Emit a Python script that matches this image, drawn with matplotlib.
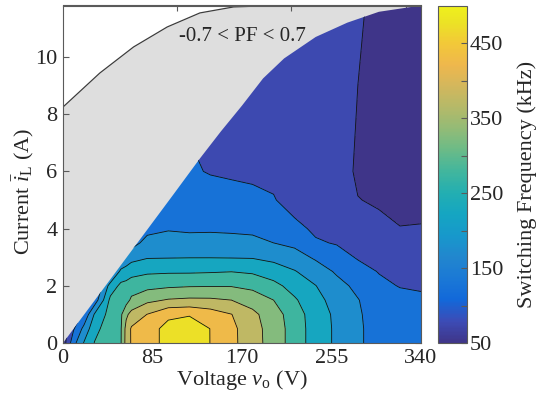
import numpy as np
import matplotlib
matplotlib.use("Agg")
import matplotlib.pyplot as plt
from matplotlib.colors import LinearSegmentedColormap, Normalize
from matplotlib.cm import ScalarMappable
from matplotlib.patches import Polygon

# ---- data ---------------------------------------------------------------
voltage = [0, 10, 20, 30, 45, 55, 60, 65, 80, 100, 120, 140, 160, 180,
           200, 220, 240, 260, 280, 300, 320, 340]
current = [0, 0.5, 1.0, 1.5, 2.0, 2.5, 3.0, 3.5, 4.0, 5.0, 6.0, 8.0, 10.0, 12.0]

# switching frequency (kHz), one row per current value
fsw_khz = [
    [20, 133, 204, 252, 280, 297, 368, 405, 430, 465, 490, 449, 412, 372, 327, 278, 225, 192, 155, 137, 127, 115],
    [25, 95, 165, 235, 277, 296, 366, 406, 430, 465, 485, 449, 412, 370, 327, 278, 225, 192, 155, 137, 127, 115],
    [30, 72, 110, 205, 270, 292, 340, 366, 401, 440, 445, 425, 401, 362, 322, 274, 224, 190, 154, 135, 124, 111],
    [32, 62, 80, 120, 262, 280, 280, 310, 338, 354, 359, 358, 350, 329, 300, 256, 216, 180, 152, 125, 113, 103],
    [34, 58, 70, 90, 220, 262, 264, 273, 285, 292, 296, 297, 297, 287, 264, 231, 201, 165, 139, 110, 98, 98],
    [35, 55, 65, 80, 130, 212, 225, 234, 242, 244, 244, 246, 249, 243, 225, 203, 174, 144, 117, 98, 86, 87],
    [36, 53, 62, 75, 105, 140, 158, 181, 196, 197, 198, 198, 197, 196, 186, 169, 143, 118, 96, 85, 74, 74],
    [36, 52, 60, 72, 95, 110, 120, 130, 167, 171, 167, 167, 164, 161, 150, 139, 105, 97, 86, 72, 62, 62],
    [37, 51, 58, 70, 88, 98, 105, 110, 135, 146, 143, 144, 143, 141, 135, 112, 92, 88, 75, 58, 50.5, 51],
    [38, 50, 56, 66, 80, 88, 92, 95, 105, 104, 124, 121, 117, 112, 103, 80, 80, 78, 51, 46, 45, 45],
    [38, 49, 54, 63, 76, 82, 85, 88, 92, 95, 106, 97, 93, 90, 88, 74, 72, 70, 44, 44, 43, 42],
    [38, 47, 52, 58, 68, 72, 75, 78, 80, 85, 95, 85, 82, 78, 75, 67, 64, 62, 49, 43, 41, 40],
    [38, 45, 50, 55, 62, 66, 68, 70, 72, 78, 85, 76, 72, 68, 65, 60, 58, 57, 51, 43, 39, 38],
    [38, 44, 48, 52, 58, 61, 63, 65, 67, 72, 78, 70, 65, 62, 60, 57, 56, 55, 53, 45, 37, 36],
]

# lower edge of the "-0.7 < PF < 0.7" area (edge of the operating region)
pf_v = [0, 105, 130, 150, 170, 190, 210, 240, 270, 300, 340]
pf_i = [0, 5.2, 6.45, 7.4, 8.3, 9.25, 9.95, 10.7, 11.2, 11.58, 11.8]

# upper limit curve (white above it)
lim_v = [0, 35, 67, 99, 130, 162, 200, 340]
lim_i = [8.25, 9.44, 10.35, 11.05, 11.54, 11.75, 11.8, 11.8]

levels = [0, 50, 100, 150, 200, 250, 300, 350, 400, 450, 500]
cbar_ticks = [50, 100, 150, 200, 250, 300, 350, 400, 450]

# MATLAB parula, sampled
parula_rgb = [
    (0.2081, 0.1663, 0.5292), (0.1959, 0.2645, 0.7279), (0.0117, 0.3875, 0.8820),
    (0.0498, 0.4586, 0.8641), (0.0793, 0.5200, 0.8312), (0.0343, 0.5966, 0.8199),
    (0.0228, 0.6535, 0.7768), (0.0843, 0.6928, 0.7062), (0.2178, 0.7250, 0.6193),
    (0.3953, 0.7459, 0.5244), (0.5709, 0.7485, 0.4494), (0.7184, 0.7411, 0.3905),
    (0.8507, 0.7299, 0.3360), (0.9739, 0.7314, 0.2666), (0.9880, 0.8066, 0.1794),
    (0.9598, 0.9218, 0.0948), (0.9763, 0.9831, 0.0538),
]
parula_pos = [0, 4, 8, 12, 16, 20, 24, 28, 32, 36, 40, 44, 48, 52, 56, 60, 63]


def soften(rgb, amount=0.1, grey=0.6):
    # the printed figure looks a bit washed out compared to raw parula
    return tuple((1 - amount) * c + amount * grey for c in rgb)


parula = LinearSegmentedColormap.from_list(
    "parula", [(p / 63, soften(c)) for p, c in zip(parula_pos, parula_rgb)])

# ---- style ----------------------------------------------------------------
plt.rcParams["font.family"] = ["Liberation Serif", "DejaVu Serif"]
plt.rcParams["font.size"] = 16
plt.rcParams["mathtext.fontset"] = "custom"
plt.rcParams["mathtext.rm"] = "Liberation Serif"
plt.rcParams["mathtext.it"] = "Liberation Serif:italic"
text_col = "#262626"
axis_col = "#5a5a5a"

fig = plt.figure(figsize=(5.53, 3.97), dpi=100)
ax = fig.add_axes([63 / 553, 54 / 397, 358 / 553, 337.5 / 397])
cax = fig.add_axes([438 / 553, 54 / 397, 29 / 553, 337.5 / 397])

V, I = np.meshgrid(voltage, current)
Z = np.array(fsw_khz, dtype=float)
norm = Normalize(vmin=50, vmax=500)

# grey PF band below the limit curve
ax.fill_between(lim_v, 0, lim_i, color="#dedede", lw=0, zorder=0)
ax.plot(lim_v, lim_i, color="#3c3c3c", lw=0.9, zorder=1)

# operating region polygon used as clip
region_xy = list(zip(pf_v, pf_i)) + [(340, 0)]
region = Polygon(region_xy, closed=True, transform=ax.transData)

cf = ax.contourf(V, I, Z, levels=levels, cmap=parula, norm=norm, zorder=2)
cf.set_clip_path(region)
cl = ax.contour(V, I, Z, levels=levels[1:-1], colors="#111111",
                linewidths=0.6, zorder=3)
cl.set_clip_path(region)

ax.text(170, 10.7, "-0.7 < PF < 0.7", ha="center", va="center",
        color=text_col, fontsize=15, zorder=4)

ax.set_xlim(0, 340)
ax.set_ylim(0, 11.8)
ax.set_xticks([0, 85, 170, 255, 340])
ax.set_yticks([0, 2, 4, 6, 8, 10])
ax.tick_params(direction="in", length=4, width=0.8, colors=axis_col,
               labelcolor=text_col, right=True)
ax.tick_params(axis="x", colors="#e6e6e6", labelcolor=text_col, pad=4)
ax.tick_params(axis="y", pad=4)
for s in ax.spines.values():
    s.set_color(axis_col)
    s.set_linewidth(0.8)
    s.set_zorder(5)

top = ax.secondary_xaxis("top")
top.set_ticks([108.5, 217, 325.5])
top.set_xticklabels([])
top.tick_params(direction="in", length=4, width=0.8, colors=axis_col)
top.spines["top"].set_color(axis_col)

ax.set_xlabel(r"Voltage $v_\mathrm{o}$ (V)", color=text_col, labelpad=0)
ax.set_ylabel(r"Current $\bar{i}_\mathrm{L}$ (A)", color=text_col)
ax.yaxis.set_label_coords(-0.075, 0.45)

cb = fig.colorbar(ScalarMappable(norm=norm, cmap=parula), cax=cax)
cb.set_ticks(cbar_ticks)
cb.set_ticklabels([str(t) if t % 100 == 50 else "" for t in cbar_ticks])
cax.tick_params(direction="in", length=4, width=0.8, colors=axis_col,
                labelcolor=text_col, pad=2)
cb.outline.set_edgecolor(axis_col)
cb.outline.set_linewidth(0.8)
cb.set_label("Switching Frequency (kHz)", color=text_col)
cax.yaxis.set_label_coords(2.75, 0.47)

fig.savefig("out.png", dpi=100)
